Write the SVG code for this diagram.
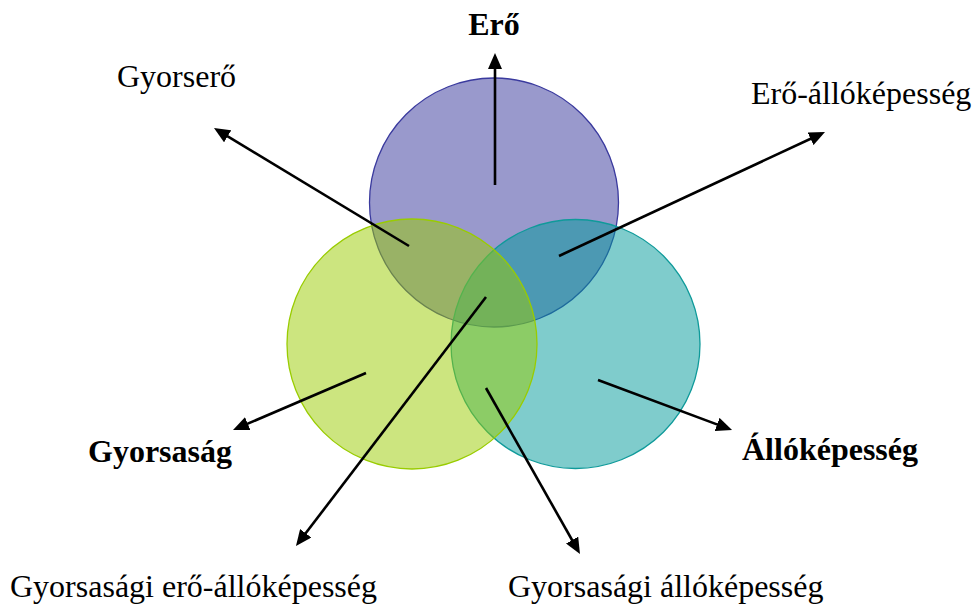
<svg xmlns="http://www.w3.org/2000/svg" width="975" height="604" viewBox="0 0 975 604">
  <style>
    .lbl { font-family: "Liberation Serif", "Times New Roman", serif; font-size: 32px; fill: #000; }
    .bold { font-weight: bold; }
    .mid { text-anchor: middle; }
    .ring { stroke-width: 1.3; fill-opacity: 0.5; }
    .conn line { stroke: #000; stroke-width: 2.6; marker-end: url(#head); }
  </style>
  <defs>
    <marker id="head" markerUnits="userSpaceOnUse" markerWidth="16" markerHeight="14" refX="12" refY="7" orient="auto">
      <path d="M0,0 L16,7 L0,14 Z" fill="#000"/>
    </marker>
  </defs>

  <rect width="975" height="604" fill="#fff"/>

  <!-- Venn circles: strength, endurance, speed -->
  <g id="node-ero-circle">
    <circle class="ring" cx="494" cy="202.5" r="124.5" fill="#333399" stroke="#3a3a9e"/>
  </g>
  <g id="node-allokepesseg-circle">
    <circle class="ring" cx="575.5" cy="344" r="124.5" fill="#009999" stroke="#0f9a9a"/>
  </g>
  <g id="node-gyorsasag-circle">
    <circle class="ring" cx="412" cy="344" r="125" fill="#99cc00" stroke="#99cc00"/>
  </g>

  <!-- Connectors -->
  <g id="connectors" class="conn">
    <line x1="495" y1="185" x2="495" y2="57"/>
    <line x1="409" y1="246" x2="217.4" y2="130.1"/>
    <line x1="559" y1="256" x2="821.4" y2="133.7"/>
    <line x1="366" y1="373" x2="236.7" y2="428.4"/>
    <line x1="486" y1="297" x2="298.4" y2="542.8"/>
    <line x1="486" y1="388" x2="578" y2="550.5"/>
    <line x1="598" y1="380" x2="728.3" y2="428.6"/>
  </g>

  <!-- Labels -->
  <g id="label-ero"><text class="lbl bold mid" x="494" y="35">Erő</text></g>
  <g id="label-gyorsero"><text class="lbl" x="117" y="87">Gyorserő</text></g>
  <g id="label-ero-allokepesseg"><text class="lbl" x="751" y="104">Erő-állóképesség</text></g>
  <g id="label-gyorsasag"><text class="lbl bold" x="88" y="462">Gyorsaság</text></g>
  <g id="label-allokepesseg"><text class="lbl bold" x="742" y="460">Állóképesség</text></g>
  <g id="label-gyorsasagi-ero-allokepesseg"><text class="lbl" x="10" y="597">Gyorsasági erő-állóképesség</text></g>
  <g id="label-gyorsasagi-allokepesseg"><text class="lbl" x="508" y="597">Gyorsasági állóképesség</text></g>
</svg>
